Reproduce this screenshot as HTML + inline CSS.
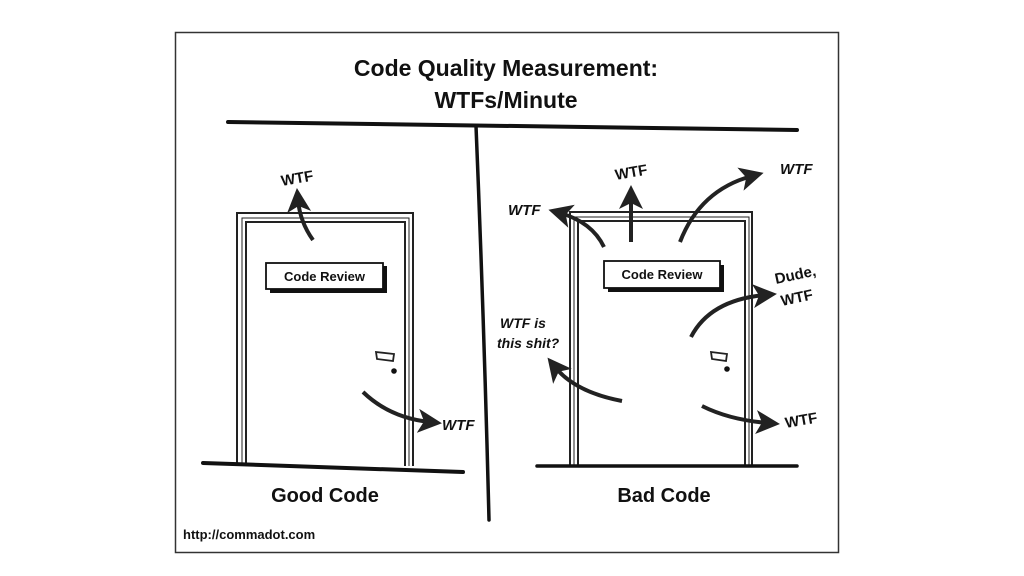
<!DOCTYPE html>
<html><head><meta charset="utf-8"><style>
html,body{margin:0;padding:0;background:#fff;}
svg{display:block;}
text{font-family:"Liberation Sans",sans-serif;fill:#111;font-weight:bold;}
</style></head><body>
<svg width="1024" height="576" viewBox="0 0 1024 576">
<defs>
<marker id="ah" markerWidth="6" markerHeight="6" refX="3" refY="3" orient="auto" markerUnits="strokeWidth">
<path d="M0,0 L6,3 L0,6 L1.5,3 Z" fill="#222"/>
</marker>
</defs>
<rect x="175.5" y="32.5" width="663" height="520" fill="#fff" stroke="#333" stroke-width="1.5"/>
<text x="506" y="76" font-size="23" text-anchor="middle">Code Quality Measurement:</text>
<text x="506" y="108" font-size="23" text-anchor="middle">WTFs/Minute</text>
<path d="M228,122 L797,130" stroke="#111" stroke-width="4" fill="none" stroke-linecap="round"/>
<path d="M476,126 Q484,320 489,520" stroke="#111" stroke-width="3.5" fill="none" stroke-linecap="round"/>

<!-- good door -->
<g stroke="#222" stroke-width="2" fill="none">
<path d="M237,466 V213 H413 V466"/>
<path d="M246,466 V222 H405 V466"/>
<path d="M242,466 V218 H409 V466" stroke-width="1"/>
</g>
<path d="M203,463 L463,472" stroke="#111" stroke-width="4" stroke-linecap="round"/>
<rect x="270" y="266" width="117" height="27" fill="#111"/>
<rect x="266" y="263" width="117" height="26" fill="#fff" stroke="#111" stroke-width="1.8"/>
<text x="324.5" y="281" font-size="13" text-anchor="middle" font-weight="normal">Code Review</text>
<path d="M376,352 L394,354 L393,361 L377,359 Z" fill="#fff" stroke="#222" stroke-width="1.8"/>
<circle cx="394" cy="371" r="2.8" fill="#111"/>
<path d="M313,240 Q300,222 298,200" stroke="#222" stroke-width="4" fill="none" marker-end="url(#ah)"/>
<text x="282" y="186" font-size="15" transform="rotate(-10 282 186)">WTF</text>
<path d="M363,392 Q390,418 430,422" stroke="#222" stroke-width="4" fill="none" marker-end="url(#ah)"/>
<text x="442" y="430" font-size="15" font-style="italic">WTF</text>
<text x="325" y="502" font-size="20" text-anchor="middle">Good Code</text>

<!-- bad door -->
<g stroke="#222" stroke-width="2" fill="none">
<path d="M570,466 V212 H752 V466"/>
<path d="M578,466 V221 H745 V466"/>
<path d="M574,466 V217 H749 V466" stroke-width="1"/>
</g>
<path d="M537,466 L797,466" stroke="#111" stroke-width="3.5" stroke-linecap="round"/>
<rect x="608" y="265" width="116" height="27" fill="#111"/>
<rect x="604" y="261" width="116" height="27" fill="#fff" stroke="#111" stroke-width="1.8"/>
<text x="662" y="279" font-size="13" text-anchor="middle" font-weight="normal">Code Review</text>
<path d="M711,352 L727,354 L726,361 L712,359 Z" fill="#fff" stroke="#222" stroke-width="1.8"/>
<circle cx="727" cy="369" r="2.8" fill="#111"/>

<path d="M604,247 Q592,222 560,213" stroke="#222" stroke-width="4" fill="none" marker-end="url(#ah)"/>
<text x="508" y="215" font-size="15" font-style="italic">WTF</text>
<path d="M631,242 L631,197" stroke="#222" stroke-width="4" fill="none" marker-end="url(#ah)"/>
<text x="616" y="180" font-size="15" transform="rotate(-10 616 180)">WTF</text>
<path d="M680,242 Q700,190 752,176" stroke="#222" stroke-width="4" fill="none" marker-end="url(#ah)"/>
<text x="780" y="174" font-size="15" font-style="italic">WTF</text>
<path d="M691,337 Q710,300 765,295" stroke="#222" stroke-width="4" fill="none" marker-end="url(#ah)"/>
<text x="776" y="284" font-size="15" transform="rotate(-12 776 284)">Dude,</text>
<text x="782" y="306" font-size="15" transform="rotate(-12 782 306)">WTF</text>
<path d="M622,401 Q575,392 555,367" stroke="#222" stroke-width="4" fill="none" marker-end="url(#ah)"/>
<text x="500" y="328" font-size="14" font-style="italic">WTF is</text>
<text x="497" y="348" font-size="14" font-style="italic">this shit?</text>
<path d="M702,406 Q730,420 768,423" stroke="#222" stroke-width="4" fill="none" marker-end="url(#ah)"/>
<text x="786" y="428" font-size="15" transform="rotate(-10 786 428)">WTF</text>
<text x="664" y="502" font-size="20" text-anchor="middle">Bad Code</text>

<text x="183" y="539" font-size="13">http://commadot.com</text>
</svg>
</body></html>
